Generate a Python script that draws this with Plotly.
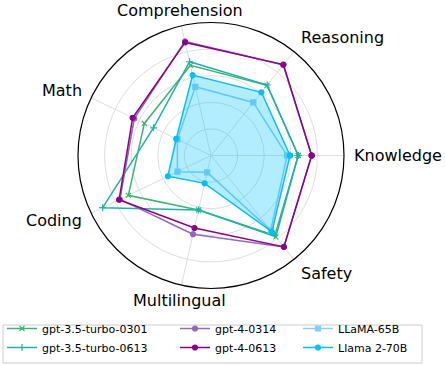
import math
import plotly.graph_objects as go

categories = ["Knowledge", "Reasoning", "Comprehension", "Math", "Coding", "Multilingual", "Safety"]

gpt35_0301 = [0.656, 0.675, 0.695, 0.556, 0.69, 0.42, 0.782]
gpt35_0613 = [0.656, 0.678, 0.723, 0.48, 0.904, 0.42, 0.77]
gpt4_0314 = [0.757, 0.87, 0.88, 0.64, 0.76, 0.607, 0.879]
gpt4_0613 = [0.757, 0.874, 0.872, 0.654, 0.767, 0.559, 0.879]
llama_65b = [0.572, 0.51, 0.53, 0.28, 0.28, 0.13, 0.72]
llama2_70b = [0.594, 0.608, 0.62, 0.29, 0.36, 0.215, 0.734]

series = [
    ("gpt-3.5-turbo-0301", gpt35_0301, "#3cb371", "x-thin", 5, "legend"),
    ("gpt-3.5-turbo-0613", gpt35_0613, "#20b2aa", "cross-thin", 5, "legend"),
    ("gpt-4-0314", gpt4_0314, "#9467bd", "circle", 5, "legend2"),
    ("gpt-4-0613", gpt4_0613, "#8b008b", "circle", 5, "legend2"),
    ("LLaMA-65B", llama_65b, "#87cefa", "square", 5, "legend3"),
    ("Llama 2-70B", llama2_70b, "#00bfff", "circle", 5, "legend3"),
]

fig = go.Figure()
th = categories + [categories[0]]
for name, vals, color, sym, size, leg in series:
    r = list(vals) + [vals[0]]
    if name == "Llama 2-70B":
        fig.add_trace(go.Scatterpolar(r=r, theta=th, mode="lines", line=dict(width=0, color=color),
                                      fill="toself", fillcolor="rgba(0,191,255,0.3)",
                                      showlegend=False, hoverinfo="skip"))
    fig.add_trace(go.Scatterpolar(
        r=r, theta=th, name=name, mode="lines+markers",
        line=dict(color=color, width=1.5),
        marker=dict(symbol=sym, size=size, color=color, line=dict(color=color, width=1.2)),
        legend=leg))

W, H = 445, 365
CX, CY, R = 211, 155.5, 133
LABEL_D = 141

annotations = []
n = len(categories)
for i, cat in enumerate(categories):
    a = 2 * math.pi * i / n
    c, s = math.cos(a), math.sin(a)
    px, py = CX + LABEL_D * c, CY - LABEL_D * s
    xa = "left" if c > 0.3 else ("right" if c < -0.3 else "center")
    if s > 0.5:
        ya, ys = "bottom", -4
    elif s < -0.5:
        ya, ys = "top", 4
    else:
        ya, ys = "middle", 8 * s
    annotations.append(dict(text=cat, x=px / W, y=1 - py / H, xref="paper", yref="paper",
                            xanchor=xa, yanchor=ya, yshift=ys, showarrow=False,
                            font=dict(size=16, family="DejaVu Sans", color="black")))

leg_font = dict(size=11, family="DejaVu Sans", color="black")
leg_common = dict(orientation="v", yanchor="top", xanchor="left", font=leg_font,
                  bgcolor="rgba(0,0,0,0)", borderwidth=0, tracegroupgap=0, itemwidth=30)

fig.update_layout(
    width=W, height=H,
    margin=dict(l=0, r=0, t=0, b=0, autoexpand=False),
    paper_bgcolor="white", plot_bgcolor="white",
    font=dict(family="DejaVu Sans", color="black"),
    showlegend=True,
    polar=dict(
        domain=dict(x=[(CX - R) / W, (CX + R) / W], y=[(H - CY - R) / H, (H - CY + R) / H]),
        bgcolor="white",
        radialaxis=dict(range=[0, 1], tickvals=[0.2, 0.4, 0.6, 0.8], showticklabels=False,
                        ticks="", showline=False, gridcolor="#dddddd", gridwidth=1),
        angularaxis=dict(type="category", rotation=0, direction="counterclockwise",
                         showline=True, linecolor="black", linewidth=1.2, ticks="",
                         showticklabels=False, gridcolor="#dddddd"),
    ),
    annotations=annotations,
    legend=dict(x=2 / W, y=(H - 314) / H, **leg_common),
    legend2=dict(x=175 / W, y=(H - 314) / H, **leg_common),
    legend3=dict(x=298 / W, y=(H - 314) / H, **leg_common),
    shapes=[dict(type="rect", xref="paper", yref="paper", x0=3 / W, x1=422 / W,
                 y0=(H - 363) / H, y1=(H - 325) / H, line=dict(color="#cccccc", width=1),
                 fillcolor="rgba(255,255,255,0.8)", layer="below")],
)

fig.write_html("out.html", config={"displayModeBar": False},
               post_script="document.body.style.margin='0';document.body.style.overflow='hidden';")
